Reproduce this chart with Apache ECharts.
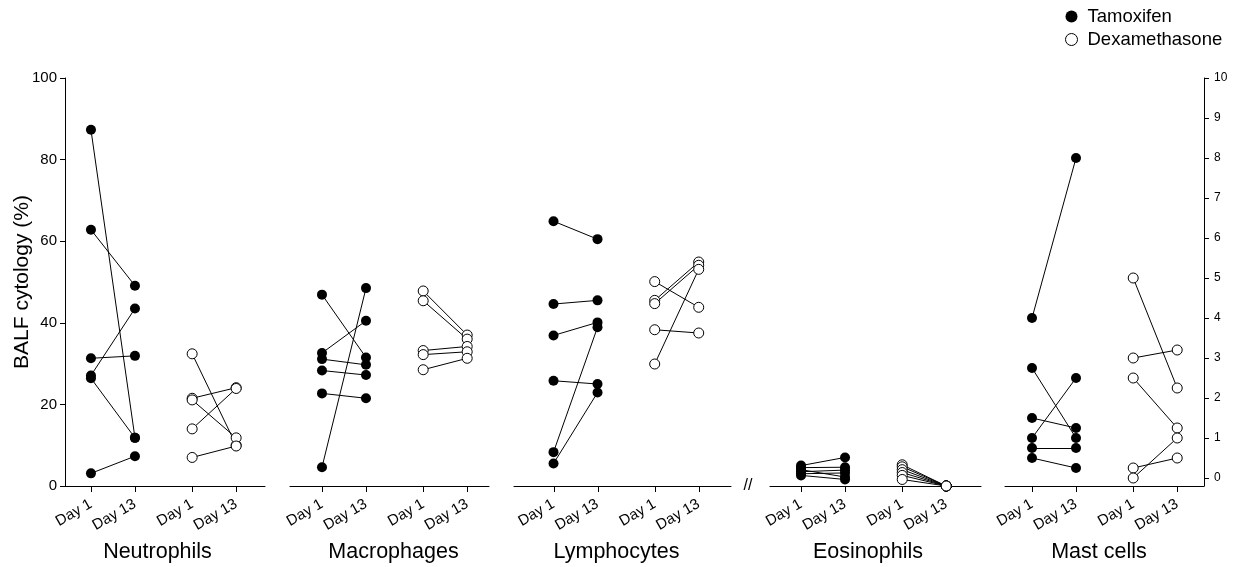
<!DOCTYPE html>
<html>
<head>
<meta charset="utf-8">
<script src="https://cdn.jsdelivr.net/npm/echarts@6/dist/echarts.min.js"></script>
<style>
  html, body { margin: 0; padding: 0; background: #fff; }
  #chart { width: 1243px; height: 567px; }
</style>
</head>
<body>
<div id="chart"></div>
<script>
// x slots inside one panel: Tamoxifen Day 1 / Day 13, Dexamethasone Day 1 / Day 13
let xPos = [0, 1, 2.3, 3.3];
let dayLabels = ['Day 1', 'Day 13', 'Day 1', 'Day 13'];
let panelNames = ['Neutrophils', 'Macrophages', 'Lymphocytes', 'Eosinophils', 'Mast cells'];
let leftTicks = [0, 20, 40, 60, 80, 100];
let rightTicks = [0, 1, 2, 3, 4, 5, 6, 7, 8, 9, 10];

// paired values (same index = same animal), % of BALF cells
let neutTamD1 = [87.3, 62.8, 31.3, 27.1, 26.4, 3.1];
let neutTamD13 = [11.8, 49.1, 31.9, 43.5, 11.8, 7.3];
let neutDexD1 = [32.4, 21.5, 21.1, 14.0, 7.0];
let neutDexD13 = [10.0, 24.1, 11.8, 23.9, 9.8];

let macTamD1 = [46.9, 4.6, 32.6, 31.1, 28.3, 22.7];
let macTamD13 = [31.5, 48.5, 40.5, 29.7, 27.2, 21.5];
let macDexD1 = [47.8, 45.4, 33.2, 32.2, 28.5];
let macDexD13 = [37.0, 36.0, 34.2, 32.9, 31.3];

let lymTamD1 = [64.9, 44.6, 36.9, 25.8, 8.3, 5.5];
let lymTamD13 = [60.5, 45.5, 40.1, 25.0, 38.9, 22.9];
let lymDexD1 = [50.1, 45.5, 44.7, 38.3, 29.9];
let lymDexD13 = [43.8, 54.9, 54.1, 37.5, 53.1];

let eosTamD1 = [5.0, 4.5, 4.0, 3.5, 3.0, 2.6];
let eosTamD13 = [7.0, 4.6, 2.2, 3.9, 3.2, 1.6];
let eosDexD1 = [5.2, 4.7, 4.0, 3.3, 2.6, 1.6];
let eosDexD13 = [0, 0, 0, 0, 0, 0];

// mast cells on the right-hand axis (0-10 %)
let mastTamD1 = [4.0, 2.75, 1.5, 1.0, 0.75, 0.5];
let mastTamD13 = [8.0, 1.0, 1.25, 2.5, 0.75, 0.25];
let mastDexD1 = [5.0, 3.0, 2.5, 0.25, 0];
let mastDexD13 = [2.25, 3.2, 1.25, 0.5, 1.0];

let panels = [
  [neutTamD1, neutTamD13, neutDexD1, neutDexD13],
  [macTamD1, macTamD13, macDexD1, macDexD13],
  [lymTamD1, lymTamD13, lymDexD1, lymDexD13],
  [eosTamD1, eosTamD13, eosDexD1, eosDexD13],
  [mastTamD1, mastTamD13, mastDexD1, mastDexD13]
];

// layout of the broken x axis: [left, width, xmin]
let seg = [
  [65, 200, -0.59],
  [290, 199, -0.727],
  [514, 217, -0.898],
  [770, 211, -0.705],
  [1005, 199, -0.614]
];
let labelX = [157.5, 393.5, 616.5, 868, 1099];
let unit = 44;
let gTop = 78, gH = 408;

const FONT = 'Liberation Sans, Arial, Helvetica, sans-serif';

function dayFmt(v) {
  let k = 0;
  for (let i = 1; i < xPos.length; i++) {
    if (Math.abs(xPos[i] - v) < Math.abs(xPos[k] - v)) k = i;
  }
  return dayLabels[k];
}

// small downward tick at each Day slot, placed through the panel's x scale
function tickItem(params, api) {
  let pt = api.coord([api.value(0), api.value(1)]);
  let x = Math.round(pt[0]) + 0.5;
  let y = Math.round(pt[1]);
  return {
    type: 'line',
    shape: { x1: x, y1: y, x2: x, y2: y + 6 },
    style: { stroke: '#000', lineWidth: 1 }
  };
}

let grids = [], xAxes = [], yAxes = [], series = [], graphics = [];

for (let p = 0; p < 5; p++) {
  let s = seg[p];
  let yMin = p === 4 ? -0.2 : 0;
  grids.push({ left: s[0], top: gTop, width: s[1], height: gH });
  xAxes.push({
    type: 'value', gridIndex: p,
    min: s[2], max: s[2] + s[1] / unit,
    splitLine: { show: false },
    axisLine: { show: true, onZero: false, lineStyle: { color: '#000', width: 1 } },
    axisTick: { show: false },
    axisLabel: {
      customValues: xPos, formatter: dayFmt, rotate: 30, margin: 17,
      color: '#000', fontSize: 15, fontFamily: FONT
    }
  });
  if (p === 0) {
    yAxes.push({
      type: 'value', gridIndex: 0, min: 0, max: 100, interval: 20,
      name: 'BALF cytology (%)', nameLocation: 'middle', nameGap: 32, nameMoveOverlap: false,
      nameTextStyle: { fontSize: 21, color: '#000', fontFamily: FONT },
      splitLine: { show: false },
      axisLine: { show: true, onZero: false, lineStyle: { color: '#000', width: 1 } },
      axisTick: { show: true, length: 5, lineStyle: { color: '#000' } },
      axisLabel: { color: '#000', fontSize: 15, margin: 8, fontFamily: FONT }
    });
  } else if (p === 4) {
    yAxes.push({
      type: 'value', gridIndex: 4, position: 'right', min: -0.2, max: 10,
      splitLine: { show: false },
      axisLine: { show: true, onZero: false, lineStyle: { color: '#000', width: 1 } },
      axisTick: { show: true, customValues: rightTicks, length: 5, lineStyle: { color: '#000' } },
      axisLabel: { customValues: rightTicks, color: '#000', fontSize: 12, margin: 10, fontFamily: FONT }
    });
  } else {
    yAxes.push({ type: 'value', gridIndex: p, min: 0, max: 100, show: false });
  }

  series.push({
    type: 'custom', coordinateSystem: 'cartesian2d',
    xAxisIndex: p, yAxisIndex: p, silent: true, clip: false, z: 0,
    renderItem: tickItem,
    data: xPos.map(x => [x, yMin])
  });

  let d = panels[p];
  for (let g = 0; g < 2; g++) {
    let a = d[g * 2], b = d[g * 2 + 1];
    let x0 = xPos[g * 2], x1 = xPos[g * 2 + 1];
    series.push({
      type: 'lines', coordinateSystem: 'cartesian2d',
      xAxisIndex: p, yAxisIndex: p, silent: true, z: 1,
      lineStyle: { color: '#000', width: 1, opacity: 1 },
      data: a.map((v, i) => ({ coords: [[x0, v], [x1, b[i]]] }))
    });
    series.push({
      type: 'scatter', name: g === 0 ? 'Tamoxifen' : 'Dexamethasone',
      xAxisIndex: p, yAxisIndex: p, z: 3, symbol: 'circle', symbolSize: 10,
      itemStyle: g === 0
        ? { color: '#000', opacity: 1 }
        : { color: '#fff', borderColor: '#000', borderWidth: 1, opacity: 1 },
      data: a.map(v => [x0, v]).concat(b.map(v => [x1, v]))
    });
  }

  graphics.push({
    type: 'text', x: labelX[p], y: 552, silent: true,
    style: {
      text: panelNames[p], fill: '#000', fontSize: 21.5, fontFamily: FONT,
      textAlign: 'center', textVerticalAlign: 'middle'
    }
  });
}

graphics.push({
  type: 'text', x: 748, y: 486, silent: true,
  style: { text: '//', fill: '#000', fontSize: 16, fontFamily: FONT, textAlign: 'center', textVerticalAlign: 'middle' }
});

let chart = echarts.init(document.getElementById('chart'), null, { renderer: 'canvas' });
chart.setOption({
  backgroundColor: '#fff',
  animation: false,
  grid: grids,
  xAxis: xAxes,
  yAxis: yAxes,
  legend: {
    orient: 'vertical', left: 1060, top: 2,
    itemWidth: 22, itemHeight: 12, itemGap: 4,
    textStyle: { fontSize: 18.5, color: '#000', fontFamily: FONT, lineHeight: 19 },
    data: [
      { name: 'Tamoxifen', icon: 'circle', itemStyle: { color: '#000', opacity: 1 } },
      { name: 'Dexamethasone', icon: 'circle', itemStyle: { color: '#fff', borderColor: '#000', borderWidth: 1 } }
    ],
    selectedMode: false
  },
  graphic: graphics,
  series: series
});
</script>
</body>
</html>
